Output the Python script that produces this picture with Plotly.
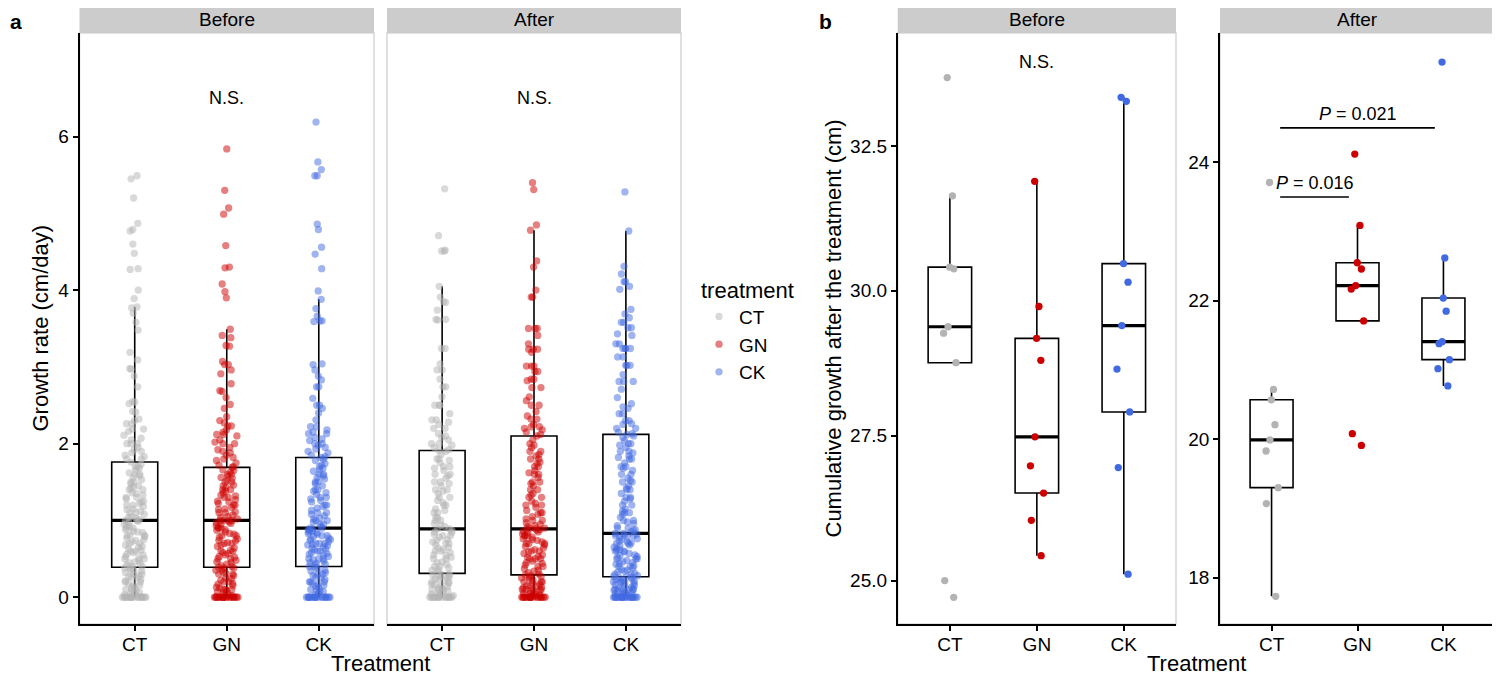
import numpy as np
import plotly.graph_objects as go

# the page body keeps an 8px margin, so the figure starts 8px in;
# every pixel position below is measured on the 1500x676 screenshot
OFF = 8
W, H = 1500 - OFF, 676 - OFF
FONT = "Liberation Sans, Arial, Helvetica, sans-serif"

treatments = ["CT", "GN", "CK"]

# point colours: panel a is drawn with alpha, panel b opaque
colors_a = {"CT": "rgba(179,179,179,0.5)", "GN": "rgba(205,0,0,0.5)", "CK": "rgba(65,105,225,0.5)"}
colors_b = {"CT": "rgb(179,179,179)", "GN": "rgb(205,0,0)", "CK": "rgb(65,105,225)"}

# ---- panel a: growth rate (cm/day) ----
rate_before_ct = [
    0, 0, 0, 0, 0, 0, 0, 0, 0, 0, 0, 0, 0, 0, 0.03, 0.05, 0.05, 0.08, 0.1, 0.1, 0.13, 0.15, 0.16, 0.2,
    0.2, 0.21, 0.25, 0.26, 0.28, 0.3, 0.3, 0.32, 0.35, 0.36, 0.38, 0.38,
    0.4, 0.4, 0.42, 0.45, 0.46, 0.5, 0.5, 0.51, 0.55, 0.56, 0.58, 0.6, 0.6, 0.63, 0.66, 0.68, 0.7, 0.7,
    0.72, 0.75, 0.77, 0.8, 0.8, 0.81, 0.84, 0.86, 0.88, 0.9, 0.9, 0.93, 0.95, 0.97, 0.99, 1.0, 1.0,
    1.01, 1.03, 1.05, 1.08, 1.1, 1.1, 1.12, 1.15, 1.18, 1.2, 1.2, 1.22, 1.25, 1.28, 1.3, 1.3, 1.33, 1.36,
    1.4, 1.4, 1.42, 1.45, 1.48, 1.5, 1.5, 1.53, 1.56, 1.6, 1.6, 1.62, 1.66, 1.7, 1.7, 1.73, 1.76,
    1.8, 1.8, 1.83, 1.88, 1.9, 1.95, 2.0, 2.0, 2.0, 2.05, 2.11, 2.19, 2.19, 2.26, 2.26, 2.3, 2.41, 2.42,
    2.52, 2.54, 2.55, 2.74, 2.88, 2.97, 2.98, 3.09, 3.19, 3.48, 3.58, 3.7, 3.77, 3.78,
    3.89, 4.0, 4.27, 4.28, 4.48, 4.6, 4.77, 4.79, 4.87, 5.2, 5.45, 5.49,
    0, 0, 0, 0.06, 0.12, 0.18, 0.23, 0.27, 0.34, 0.44, 0.48, 0.53, 0.61, 0.65, 0.74, 0.79, 0.85, 0.92,
    1.04, 1.14, 1.24, 1.35, 1.44, 1.58, 1.68, 1.85, 1.92, 2.07, 2.16, 2.32,
]
rate_before_gn = [
    0, 0, 0, 0, 0, 0, 0, 0, 0, 0, 0, 0, 0, 0, 0, 0, 0.02, 0.05, 0.07, 0.1, 0.1, 0.1, 0.13, 0.15, 0.18,
    0.2, 0.2, 0.22, 0.25, 0.28, 0.3, 0.3, 0.31, 0.35, 0.36, 0.38, 0.38, 0.39,
    0.4, 0.41, 0.43, 0.45, 0.48, 0.5, 0.5, 0.52, 0.55, 0.58, 0.6, 0.6, 0.61, 0.64, 0.66, 0.7, 0.7, 0.71,
    0.74, 0.76, 0.78, 0.8, 0.8, 0.82, 0.85, 0.87, 0.9, 0.9, 0.91, 0.93, 0.95, 0.97, 0.98, 1.0, 1.0, 1.0, 1.0,
    1.02, 1.04, 1.07, 1.1, 1.1, 1.11, 1.14, 1.17, 1.2, 1.2, 1.22, 1.25, 1.27, 1.3, 1.3, 1.33, 1.36, 1.38,
    1.4, 1.4, 1.43, 1.46, 1.5, 1.5, 1.52, 1.55, 1.58, 1.6, 1.6, 1.63, 1.66, 1.69,
    1.7, 1.72, 1.75, 1.78, 1.8, 1.85, 1.88, 1.9, 1.95, 2.0, 2.0, 2.05, 2.1, 2.12, 2.12, 2.15, 2.23, 2.23,
    2.27, 2.3, 2.46, 2.51, 2.6, 2.68, 2.69, 2.78, 2.91, 2.96, 3.03, 3.03, 3.07, 3.27, 3.28, 3.38, 3.41, 3.49,
    3.9, 3.98, 4.08, 4.29, 4.3, 4.58, 4.99, 5.07, 5.3, 5.84,
    0, 0, 0, 0, 0.04, 0.08, 0.12, 0.17, 0.24, 0.33, 0.46, 0.53, 0.57, 0.68, 0.73, 0.83, 0.88, 0.96, 1.05,
    1.15, 1.24, 1.32, 1.45, 1.56, 1.65, 1.82, 1.92, 2.02, 2.18, 2.35,
]
rate_before_ck = [
    0, 0, 0, 0, 0, 0, 0, 0, 0, 0, 0, 0, 0, 0, 0, 0.03, 0.05, 0.08, 0.1, 0.1, 0.12, 0.15, 0.17, 0.2, 0.2,
    0.2, 0.23, 0.26, 0.28, 0.3, 0.3, 0.32, 0.35, 0.37, 0.39, 0.4,
    0.42, 0.44, 0.45, 0.47, 0.5, 0.5, 0.5, 0.53, 0.55, 0.56, 0.58, 0.6, 0.6, 0.62, 0.63, 0.65, 0.67, 0.68,
    0.7, 0.7, 0.7, 0.72, 0.74, 0.75, 0.77, 0.79, 0.8, 0.8, 0.82, 0.84, 0.85, 0.86, 0.88, 0.89, 0.9, 0.9,
    0.92, 0.95, 0.98, 1.0, 1.0, 1.03, 1.06, 1.1, 1.1, 1.13, 1.16, 1.2, 1.2, 1.24, 1.28, 1.3, 1.3, 1.34,
    1.38, 1.4, 1.4, 1.45, 1.5, 1.5, 1.54, 1.58, 1.6, 1.6, 1.64, 1.68, 1.7, 1.74, 1.78, 1.8, 1.82,
    1.83, 1.85, 1.88, 1.9, 1.93, 1.98, 2.0, 2.0, 2.04, 2.08, 2.13, 2.13, 2.15, 2.22, 2.22, 2.31, 2.46, 2.5,
    2.5, 2.59, 2.74, 2.74, 2.83, 2.88, 2.96, 3.03, 3.04, 3.59, 3.6, 3.6, 3.66, 3.76, 3.88,
    3.99, 4.28, 4.47, 4.56, 4.79, 4.86, 5.49, 5.49, 5.57, 5.67, 6.19,
    0, 0, 0, 0.07, 0.14, 0.18, 0.25, 0.34, 0.43, 0.49, 0.57, 0.64, 0.69, 0.76, 0.83, 0.87, 0.95, 1.02,
    1.08, 1.18, 1.26, 1.36, 1.48, 1.56, 1.66, 1.72, 1.95, 2.06, 2.18, 2.4,
]
rate_after_ct = [
    0, 0, 0, 0, 0, 0, 0, 0, 0, 0, 0, 0, 0.02, 0.03, 0.05, 0.06, 0.08, 0.09, 0.1, 0.1, 0.12, 0.14, 0.15,
    0.17, 0.18, 0.2, 0.2, 0.22, 0.24, 0.25, 0.27, 0.28, 0.29, 0.3, 0.3,
    0.33, 0.35, 0.38, 0.4, 0.4, 0.43, 0.46, 0.5, 0.5, 0.52, 0.55, 0.58, 0.6, 0.6, 0.62, 0.65, 0.68, 0.7,
    0.7, 0.72, 0.75, 0.78, 0.8, 0.8, 0.82, 0.85, 0.87, 0.89, 0.89,
    0.92, 0.96, 1.0, 1.0, 1.05, 1.1, 1.1, 1.15, 1.2, 1.2, 1.26, 1.3, 1.3, 1.35, 1.4, 1.4, 1.45, 1.5, 1.5,
    1.55, 1.6, 1.6, 1.65, 1.7, 1.7, 1.75, 1.8, 1.8, 1.86, 1.9, 1.91,
    1.92, 1.95, 1.98, 2.0, 2.0, 2.05, 2.1, 2.13, 2.2, 2.2, 2.25, 2.31, 2.31, 2.39, 2.5, 2.5, 2.5, 2.61,
    2.74, 2.74, 2.84, 2.96, 2.96, 3.04, 3.24, 3.24, 3.61, 3.62, 3.62, 3.74, 3.84, 3.85, 3.91, 4.05,
    4.51, 4.51, 4.52, 4.71, 5.32,
    0, 0, 0, 0.04, 0.11, 0.16, 0.23, 0.36, 0.45, 0.54, 0.64, 0.74, 0.84, 0.94, 1.03, 1.13, 1.23, 1.38,
    1.48, 1.58, 1.68, 1.78, 2.08, 2.28,
]
rate_after_gn = [
    0, 0, 0, 0, 0, 0, 0, 0, 0, 0, 0, 0, 0, 0, 0, 0, 0.02, 0.03, 0.05, 0.05, 0.06, 0.08, 0.1, 0.1, 0.1,
    0.1, 0.12, 0.14, 0.15, 0.15, 0.17, 0.2, 0.2, 0.2, 0.22, 0.24, 0.25, 0.27, 0.28, 0.29,
    0.3, 0.32, 0.35, 0.37, 0.4, 0.4, 0.42, 0.45, 0.47, 0.5, 0.5, 0.5, 0.53, 0.55, 0.57, 0.6, 0.6, 0.62,
    0.64, 0.66, 0.7, 0.7, 0.7, 0.72, 0.74, 0.76, 0.78, 0.8, 0.8, 0.8, 0.82, 0.84, 0.86, 0.87, 0.88, 0.89, 0.89,
    0.9, 0.9, 0.92, 0.95, 0.97, 1.0, 1.0, 1.02, 1.05, 1.1, 1.1, 1.13, 1.17, 1.2, 1.2, 1.25, 1.3, 1.3,
    1.35, 1.4, 1.4, 1.45, 1.5, 1.5, 1.56, 1.6, 1.6, 1.65, 1.7, 1.7, 1.76, 1.8, 1.8, 1.86, 1.9, 1.9, 1.95,
    2.0, 2.05, 2.1,
    2.12, 2.15, 2.18, 2.22, 2.22, 2.25, 2.32, 2.32, 2.42, 2.5, 2.5, 2.61, 2.73, 2.73, 2.82, 2.84, 2.84,
    2.94, 2.94, 3.01, 3.01, 3.01, 3.19, 3.23, 3.23, 3.23, 3.3, 3.41, 3.5, 3.5, 3.5, 3.91, 3.91, 4.0, 4.3,
    4.38, 4.78,
    4.85, 5.31, 5.4,
    0, 0, 0, 0.04, 0.09, 0.13, 0.18, 0.26, 0.34, 0.44, 0.52, 0.59, 0.68, 0.75, 0.85, 0.93, 1.08, 1.22,
    1.33, 1.48, 1.62, 1.74, 1.84, 1.98, 2.2, 2.36, 2.56,
]
rate_after_ck = [
    0, 0, 0, 0, 0, 0, 0, 0, 0, 0, 0, 0, 0, 0, 0, 0, 0, 0, 0.02, 0.03, 0.04, 0.05, 0.06, 0.07, 0.08, 0.1,
    0.1, 0.1, 0.1, 0.11, 0.12, 0.14, 0.15, 0.16, 0.18, 0.2, 0.2, 0.2, 0.21, 0.22, 0.23, 0.24, 0.25, 0.26, 0.26,
    0.28, 0.3, 0.3, 0.31, 0.33, 0.35, 0.36, 0.38, 0.4, 0.4, 0.41, 0.43, 0.45, 0.46, 0.48, 0.5, 0.5, 0.5,
    0.52, 0.54, 0.55, 0.57, 0.59, 0.6, 0.6, 0.61, 0.63, 0.65, 0.67, 0.68, 0.7, 0.7, 0.71, 0.73, 0.75, 0.76,
    0.78, 0.8, 0.8, 0.81, 0.82, 0.83, 0.83,
    0.85, 0.88, 0.9, 0.9, 0.93, 0.96, 1.0, 1.0, 1.04, 1.08, 1.1, 1.1, 1.15, 1.2, 1.2, 1.25, 1.3, 1.3,
    1.35, 1.4, 1.4, 1.45, 1.5, 1.5, 1.55, 1.6, 1.6, 1.65, 1.7, 1.7, 1.75, 1.8, 1.8, 1.84, 1.88, 1.9, 1.9,
    1.95, 2.0, 2.0, 2.04, 2.08, 2.1, 2.12,
    2.13, 2.15, 2.2, 2.2, 2.25, 2.3, 2.3, 2.39, 2.39, 2.46, 2.52, 2.6, 2.71, 2.81, 2.81, 2.81, 2.9, 3.02,
    3.02, 3.02, 3.13, 3.13, 3.24, 3.24, 3.24, 3.24, 3.3, 3.3, 3.41, 3.43, 3.51, 3.51, 3.58, 3.58, 3.64,
    3.69, 3.75, 4.01, 4.05, 4.11, 4.11, 4.21, 4.31, 4.77,
    5.28,
    0, 0, 0, 0.05, 0.09, 0.13, 0.19, 0.27, 0.34, 0.44, 0.53, 0.62, 0.72, 0.79, 0.87, 0.98, 1.12, 1.28,
    1.42, 1.52, 1.68, 1.82, 1.98, 2.26, 2.48,
]

# box statistics of panel a as drawn (CT, GN, CK)
before_q1 = [0.39, 0.39, 0.40]
before_median = [1.00, 1.00, 0.90]
before_q3 = [1.76, 1.69, 1.82]
before_lower = [0, 0, 0]
before_upper = [3.78, 3.49, 3.88]

after_q1 = [0.31, 0.29, 0.265]
after_median = [0.89, 0.89, 0.83]
after_q3 = [1.91, 2.10, 2.12]
after_lower = [0, 0, 0]
after_upper = [4.05, 4.78, 4.77]

# ---- panel b: cumulative growth after the treatment (cm) ----
cum_before_ct = [33.68, 31.64, 30.41, 30.38, 29.38, 29.27, 28.76, 25.00, 24.71]
cum_before_gn = [31.89, 29.73, 29.18, 28.80, 27.48, 26.98, 26.51, 26.04, 25.43]
cum_before_ck = [33.34, 33.27, 30.47, 30.15, 29.40, 28.65, 27.91, 26.95, 25.11]
cum_after_ct = [23.71, 20.72, 20.57, 20.21, 19.99, 19.83, 19.30, 19.07, 17.73]
cum_after_gn = [24.12, 23.09, 22.55, 22.46, 22.22, 22.17, 21.71, 20.08, 19.91]
cum_after_ck = [25.45, 22.62, 22.04, 21.85, 21.41, 21.38, 21.15, 21.02, 20.77]

# significance brackets in the "After" facet of panel b
brackets = [("CT", "GN", 23.5, "<i>P</i> = 0.016"), ("CT", "CK", 24.5, "<i>P</i> = 0.021")]


def px_x(p):
    return (p - OFF) / W


def px_y(p):
    return 1 - (p - OFF) / H


fig = go.Figure()

BOX_LINE = dict(color="black", width=1.6)


def add_panel_a(xa, ya, groups, q1, med, q3, lo, hi):
    fig.add_trace(go.Box(
        x=treatments, q1=q1, median=med, q3=q3, lowerfence=lo, upperfence=hi,
        boxpoints=False, width=0.5, whiskerwidth=0, line=BOX_LINE, fillcolor="white",
        xaxis=xa, yaxis=ya, showlegend=False, hoverinfo="skip"))
    # thicker median bar
    fig.add_trace(go.Box(
        x=treatments, q1=med, median=med, q3=med, lowerfence=med, upperfence=med,
        boxpoints=False, width=0.5, whiskerwidth=0, line=dict(color="black", width=3.2),
        fillcolor="rgba(0,0,0,0)", xaxis=xa, yaxis=ya, showlegend=False, hoverinfo="skip"))
    for i, t in enumerate(treatments):
        vals = groups[t]
        # the core and the tail are jittered separately so sparse points still spread
        for part in ([v for v in vals if v <= q3[i]], [v for v in vals if v > q3[i]]):
            fig.add_trace(go.Box(
                x=[t] * len(part), y=part, boxpoints="all", jitter=0.55, pointpos=0,
                width=0.5, whiskerwidth=0, line=dict(width=0, color="rgba(0,0,0,0)"),
                fillcolor="rgba(0,0,0,0)",
                marker=dict(color=colors_a[t], size=7.3, line=dict(width=0)),
                xaxis=xa, yaxis=ya, showlegend=False, hoveron="points"))


def add_panel_b(xa, ya, groups):
    med = [float(np.median(groups[t])) for t in treatments]
    fig.add_trace(go.Box(
        x=treatments, q1=med, median=med, q3=med, lowerfence=med, upperfence=med,
        boxpoints=False, width=0.5, whiskerwidth=0, line=dict(color="black", width=3.2),
        fillcolor="rgba(0,0,0,0)", xaxis=xa, yaxis=ya, showlegend=False, hoverinfo="skip"))
    for t in treatments:
        vals = groups[t]
        fig.add_trace(go.Box(
            x=[t] * len(vals), y=vals, boxpoints="all", jitter=0.4, pointpos=0,
            quartilemethod="inclusive", width=0.5, whiskerwidth=0, line=BOX_LINE,
            fillcolor="rgba(0,0,0,0)",
            marker=dict(color=colors_b[t], size=7.3, line=dict(width=0)),
            xaxis=xa, yaxis=ya, showlegend=False, hoveron="points"))


add_panel_a("x", "y", {"CT": rate_before_ct, "GN": rate_before_gn, "CK": rate_before_ck},
            before_q1, before_median, before_q3, before_lower, before_upper)
add_panel_a("x2", "y2", {"CT": rate_after_ct, "GN": rate_after_gn, "CK": rate_after_ck},
            after_q1, after_median, after_q3, after_lower, after_upper)
add_panel_b("x3", "y3", {"CT": cum_before_ct, "GN": cum_before_gn, "CK": cum_before_ck})
add_panel_b("x4", "y4", {"CT": cum_after_ct, "GN": cum_after_gn, "CK": cum_after_ck})

# legend entries
for t in treatments:
    fig.add_trace(go.Scatter(x=[None], y=[None], mode="markers", name=t,
                             marker=dict(color=colors_a[t], size=7.3), xaxis="x", yaxis="y"))

# ---- axes ----
Y0, Y1 = px_y(624), px_y(33)
x_domains = {"x": (79.5, 374), "x2": (387, 681), "x3": (897.7, 1176), "x4": (1220, 1495)}

xbase = dict(type="category", categoryorder="array", categoryarray=treatments, range=[-0.6, 2.6],
             showline=True, linecolor="black", linewidth=1.7, ticks="outside", ticklen=5,
             tickwidth=1.7, tickcolor="black", showgrid=False, zeroline=False,
             ticklabelstandoff=-3, tickfont=dict(size=19, color="black"))
ybase = dict(showline=True, linecolor="black", linewidth=1.7, ticks="outside", ticklen=5,
             tickwidth=1.7, tickcolor="black", showgrid=False, zeroline=False,
             tickfont=dict(size=19, color="black"), domain=[Y0, Y1])

layout_axes = {}
for i, (ax, (a, b)) in enumerate(x_domains.items(), start=1):
    yname = "y" if i == 1 else f"y{i}"
    layout_axes["xaxis" if i == 1 else f"xaxis{i}"] = dict(xbase, domain=[px_x(a), px_x(b)], anchor=yname)

layout_axes["yaxis"] = dict(ybase, anchor="x", range=[-0.35, 7.35], tickvals=[0, 2, 4, 6])
layout_axes["yaxis2"] = dict(ybase, anchor="x2", matches="y", showline=False, ticks="",
                             showticklabels=False)
layout_axes["yaxis3"] = dict(ybase, anchor="x3", range=[24.25, 34.45],
                             tickvals=[25, 27.5, 30, 32.5], tickformat=".1f")
layout_axes["yaxis4"] = dict(ybase, anchor="x4", range=[17.33, 25.87], tickvals=[18, 20, 22, 24])

# ---- panel borders and facet strips ----
shapes = []
annotations = []


def text(label, x, y, size, xref="paper", yref="paper", **kw):
    kw.setdefault("xanchor", "center")
    kw.setdefault("yanchor", "middle")
    annotations.append(dict(text=label, x=x, y=y, xref=xref, yref=yref, showarrow=False,
                            font=dict(size=size), **kw))


strip_labels = {"x": "Before", "x2": "After", "x3": "Before", "x4": "After"}
for ax, label in strip_labels.items():
    ya = "y" + ax[1:]
    shapes.append(dict(type="rect", xref=f"{ax} domain", yref=f"{ya} domain", x0=0, x1=1, y0=0, y1=1,
                       line=dict(color="#D9D9D9", width=1.6), layer="below"))
    shapes.append(dict(type="rect", xref=f"{ax} domain", yref="paper", x0=0, x1=1,
                       y0=px_y(33), y1=1, fillcolor="#CCCCCC", line=dict(width=0)))
    text(label, 0.5, px_y(19.5), 19, xref=f"{ax} domain")

# N.S. labels
text("N.S.", "GN", 6.5, 18, xref="x", yref="y")
text("N.S.", "GN", 6.5, 18, xref="x2", yref="y2")
text("N.S.", "GN", 33.95, 18, xref="x3", yref="y3")

# P-value brackets
for g1, g2, yv, label in brackets:
    i1, i2 = treatments.index(g1), treatments.index(g2)
    shapes.append(dict(type="line", xref="x4", yref="y4", x0=i1 + 0.1, x1=i2 - 0.1, y0=yv, y1=yv,
                       line=dict(color="black", width=1.7)))
    text(label, (i1 + i2) / 2, yv, 18, xref="x4", yref="y4", yanchor="bottom", yshift=2)

# axis titles and panel letters
text("Growth rate (cm/day)", px_x(40), px_y(328.5), 22, textangle=-90)
text("Cumulative growth after the treatment (cm)", px_x(833), px_y(328.5), 22, textangle=-90)
text("Treatment", px_x(380), px_y(663), 22)
text("Treatment", px_x(1196), px_y(663), 22)
text("<b>a</b>", 0, 1, 21, xanchor="left", yanchor="top")
text("<b>b</b>", px_x(817), 1, 21, xanchor="left", yanchor="top")

fig.update_layout(
    width=W, height=H, margin=dict(l=0, r=0, t=0, b=0),
    paper_bgcolor="white", plot_bgcolor="white",
    font=dict(family=FONT, size=19, color="black"),
    boxmode="overlay",
    shapes=shapes, annotations=annotations,
    legend=dict(title=dict(text="treatment", font=dict(size=22)), font=dict(size=19),
                x=px_x(699), y=px_y(269), xanchor="left", yanchor="top",
                bgcolor="rgba(0,0,0,0)", tracegroupgap=0),
    **layout_axes,
)

fig.write_html("out.html")
